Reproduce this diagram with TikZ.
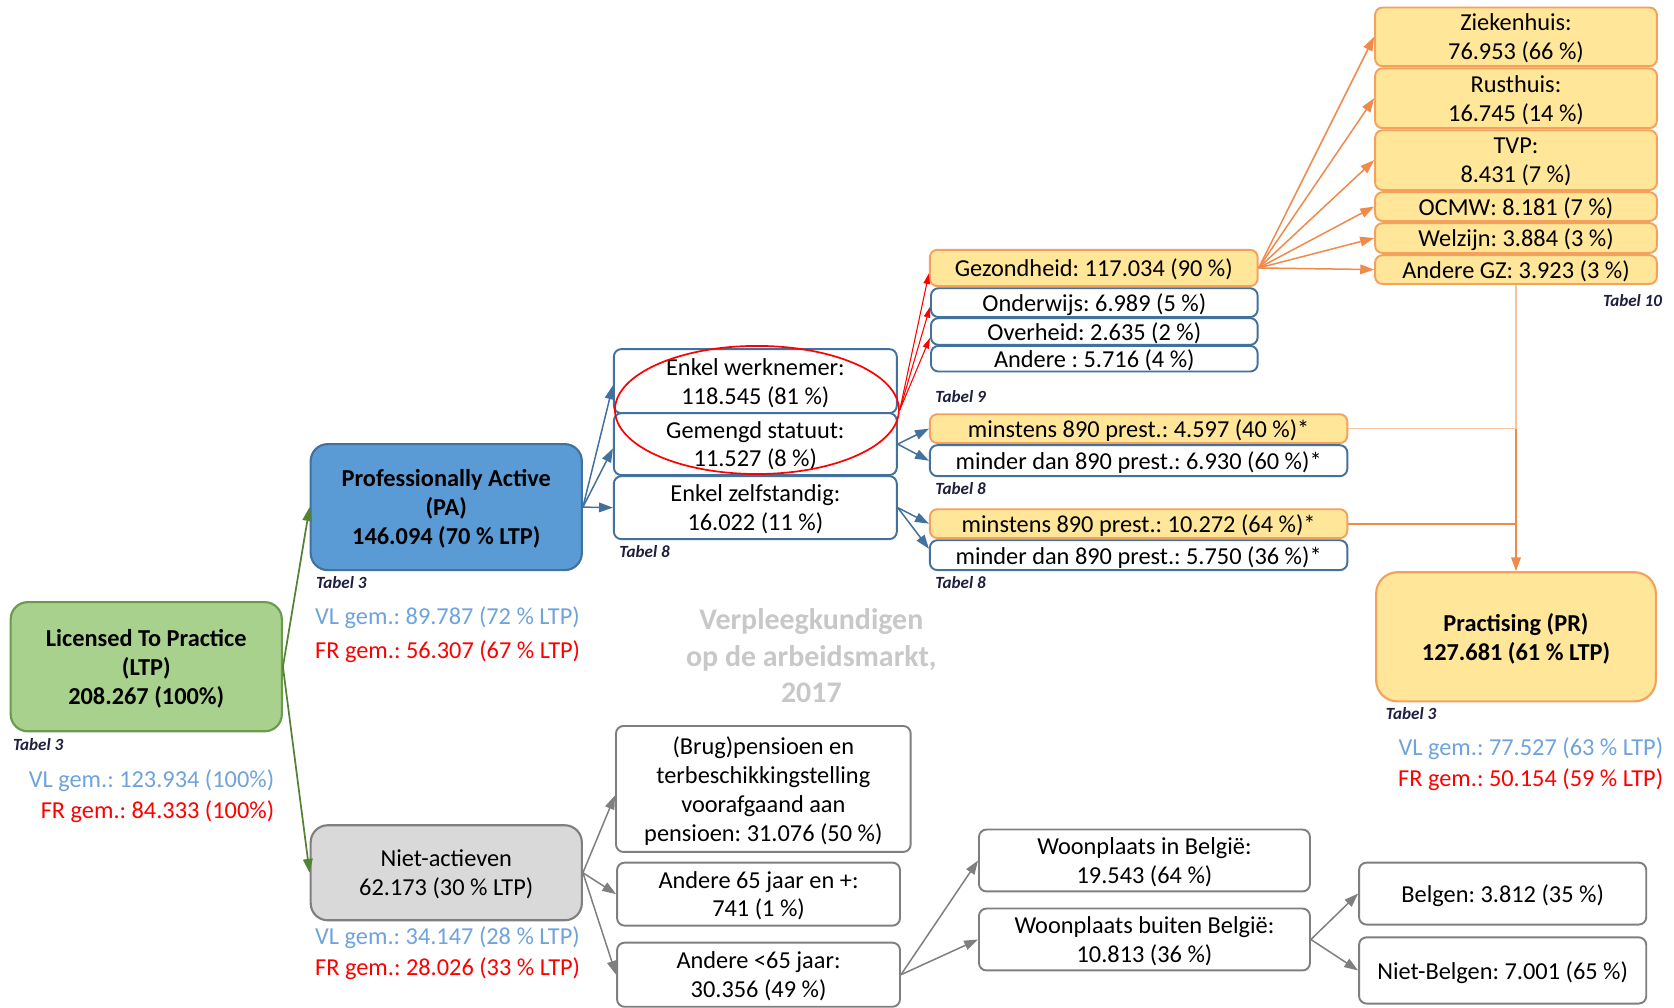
\documentclass[tikz,border=0pt]{standalone}
\usepackage{fontspec}
\setmainfont{Carlito}
\frenchspacing
\usetikzlibrary{arrows.meta,shapes.geometric,calc}
\definecolor{grfill}{HTML}{A9D18E}
\definecolor{grline}{HTML}{6A9B4C}
\definecolor{grarrow}{HTML}{548235}
\definecolor{bfill}{HTML}{5B9BD5}
\definecolor{bline}{HTML}{41719C}
\definecolor{ofill}{HTML}{FFE699}
\definecolor{oline}{HTML}{F4A15D}
\definecolor{oarrow}{HTML}{F08A4B}
\definecolor{olight}{HTML}{F8C3A0}
\definecolor{gfill}{HTML}{D9D9D9}
\definecolor{gline}{HTML}{7F7F7F}
\definecolor{vlblue}{HTML}{6FA3DC}
\definecolor{wmark}{HTML}{C8C8C8}
\definecolor{tabc}{HTML}{1F2040}
\begin{document}
\begin{tikzpicture}[x=1pt,y=-1pt,
  txt/.style={font=\fontsize{22.8}{27}\selectfont\frenchspacing, align=center, inner sep=0pt, text depth=0pt},
  bigbox/.style={txt, draw, line width=2pt, rounded corners=16pt},
  smbox/.style={txt, draw, line width=1.8pt, rounded corners=7pt, fill=white},
  bbox/.style={smbox, draw=bline},
  obox/.style={smbox, draw=oline, fill=ofill},
  gbox/.style={smbox, draw=gline},
  tabel/.style={font=\fontsize{16}{18}\selectfont\bfseries\itshape, text=tabc, inner sep=0pt},
  lbl/.style={font=\fontsize{22.8}{27}\selectfont\frenchspacing, inner sep=0pt},
  arr/.style={line width=1.4pt, -{Triangle[length=13pt,width=9pt]}},
  sarr/.style={line width=1pt, -{Triangle[length=10pt,width=6pt]}}
]
\useasboundingbox (0,0) rectangle (1568,944);
\fill[white] (0,0) rectangle (1568,944);

% main boxes
\node[bigbox, fill=grfill, draw=grline, font=\fontsize{22.8}{27}\selectfont\bfseries\frenchspacing,
      minimum width=254pt, minimum height=121pt] (ltp) at (137,624.5)
      {Licensed To Practice\\(LTP)\\208.267 (100\%)};
\node[bigbox, fill=bfill, draw=bline, font=\fontsize{22.8}{27}\selectfont\bfseries\frenchspacing,
      minimum width=254pt, minimum height=118pt] (pa) at (418,475)
      {Professionally Active\\(PA)\\146.094 (70 \% LTP)};
\node[bigbox, fill=gfill, draw=gline,
      minimum width=254pt, minimum height=89pt] (niet) at (418,817.5)
      {Niet-actieven\\62.173 (30 \% LTP)};
\node[bigbox, fill=ofill, draw=oline, rounded corners=20pt, font=\fontsize{22.8}{27}\selectfont\bfseries\frenchspacing,
      minimum width=262pt, minimum height=121pt] (pr) at (1420,596.5)
      {Practising (PR)\\127.681 (61 \% LTP)};

% labels under main boxes
\node[tabel, anchor=west] (t1) at (12,697) {Tabel 3};
\node[lbl, anchor=east, text=vlblue] (vl1) at (257,731) {VL gem.: 123.934 (100\%)};
\node[lbl, anchor=east, text=red] (fr1) at (257,760) {FR gem.: 84.333 (100\%)};
\node[tabel, anchor=west] (t2) at (296,546) {Tabel 3};
\node[lbl, anchor=west, text=vlblue] (vl2) at (295,579) {VL gem.: 89.787 (72 \% LTP)};
\node[lbl, anchor=west, text=red] (fr2) at (295,610) {FR gem.: 56.307 (67 \% LTP)};
\node[lbl, anchor=west, text=vlblue] (vl3) at (295,878) {VL gem.: 34.147 (28 \% LTP)};
\node[lbl, anchor=west, text=red] (fr3) at (295,907) {FR gem.: 28.026 (33 \% LTP)};
\node[tabel, anchor=west] (t3) at (1298,668) {Tabel 3};
\node[lbl, anchor=east, text=vlblue] (vl4) at (1558,701) {VL gem.: 77.527 (63 \% LTP)};
\node[lbl, anchor=east, text=red] (fr4) at (1558,730) {FR gem.: 50.154 (59 \% LTP)};

% watermark
\node[txt, font=\fontsize{28}{34}\selectfont\bfseries, text=wmark] (wm) at (760,614)
  {Verpleegkundigen\\op de arbeidsmarkt,\\2017};

% statute boxes
\node[bbox, minimum width=265pt, minimum height=60pt] (ew) at (707.5,357) {Enkel werknemer:\\118.545 (81 \%)};
\node[bbox, minimum width=265pt, minimum height=58pt] (gs) at (707.5,416) {Gemengd statuut:\\11.527 (8 \%)};
\node[bbox, minimum width=265pt, minimum height=59pt] (ez) at (707.5,475.5) {Enkel zelfstandig:\\16.022 (11 \%)};
\node[tabel, anchor=west] (t4) at (580,517) {Tabel 8};
\node[draw=red, line width=1.6pt, ellipse, minimum width=266pt, minimum height=120pt, inner sep=0pt] (ell) at (709,384) {};

% sector boxes
\node[obox, minimum width=307pt, minimum height=34pt] (gez) at (1024.5,251) {Gezondheid: 117.034 (90 \%)};
\node[bbox, minimum width=306pt, minimum height=27pt] (ond) at (1025,283.5) {Onderwijs: 6.989 (5 \%)};
\node[bbox, minimum width=306pt, minimum height=25pt] (ovh) at (1025,310.5) {Overheid: 2.635 (2 \%)};
\node[bbox, minimum width=306pt, minimum height=24pt] (and) at (1025,336) {Andere : 5.716 (4 \%)};
\node[tabel, anchor=west] (t5) at (876,371) {Tabel 9};

% prestaties boxes
\node[obox, minimum width=391pt, minimum height=27pt] (m1) at (1066.5,401.5) {minstens 890 prest.: 4.597 (40 \%)*};
\node[bbox, minimum width=391pt, minimum height=29pt] (d1) at (1066.5,431.5) {minder dan 890 prest.: 6.930 (60 \%)*};
\node[tabel, anchor=west] (t6) at (876,458) {Tabel 8};
\node[obox, minimum width=391pt, minimum height=27pt] (m2) at (1066.5,490.5) {minstens 890 prest.: 10.272 (64 \%)*};
\node[bbox, minimum width=391pt, minimum height=28pt] (d2) at (1066.5,520) {minder dan 890 prest.: 5.750 (36 \%)*};
\node[tabel, anchor=west] (t7) at (876,546) {Tabel 8};

% health sub-sectors
\node[obox, minimum width=264pt, minimum height=55pt] (zk) at (1420,34.5) {Ziekenhuis:\\76.953 (66 \%)};
\node[obox, minimum width=264pt, minimum height=56pt] (rh) at (1420,92) {Rusthuis:\\16.745 (14 \%)};
\node[obox, minimum width=264pt, minimum height=56pt] (tvp) at (1420,150) {TVP:\\8.431 (7 \%)};
\node[obox, minimum width=264pt, minimum height=27pt] (ocmw) at (1420,193.5) {OCMW: 8.181 (7 \%)};
\node[obox, minimum width=264pt, minimum height=28pt] (wz) at (1420,223) {Welzijn: 3.884 (3 \%)};
\node[obox, minimum width=264pt, minimum height=27pt] (agz) at (1420,252.5) {Andere GZ: 3.923 (3 \%)};
\node[tabel, anchor=east] (t8) at (1557,282) {Tabel 10};

% non-active boxes
\node[gbox, minimum width=276pt, minimum height=118pt] (brug) at (715,739)
  {(Brug)pensioen en\\terbeschikkingstelling\\voorafgaand aan\\pensioen: 31.076 (50 \%)};
\node[gbox, minimum width=265pt, minimum height=59pt] (a65) at (710.5,837.5) {Andere 65 jaar en +:\\741 (1 \%)};
\node[gbox, minimum width=265pt, minimum height=60pt] (a65m) at (710.5,913) {Andere <65 jaar:\\30.356 (49 \%)};
\node[gbox, minimum width=310pt, minimum height=58pt] (wib) at (1072,806) {Woonplaats in België:\\19.543 (64 \%)};
\node[gbox, minimum width=310pt, minimum height=58pt] (wbb) at (1072,880) {Woonplaats buiten België:\\10.813 (36 \%)};
\node[gbox, minimum width=269pt, minimum height=58pt] (bel) at (1407.5,837) {Belgen: 3.812 (35 \%)};
\node[gbox, minimum width=269pt, minimum height=62pt] (nbel) at (1407.5,909) {Niet-Belgen: 7.001 (65 \%)};

% connectors
\draw[arr, grarrow, line width=1.6pt] (ltp.east) -- (pa.west);
\draw[arr, grarrow, line width=1.6pt] (ltp.east) -- (niet.west);

\draw[arr, bline] (pa.east) -- ([yshift=-4pt]ew.west);
\draw[arr, bline] (pa.east) -- ([yshift=-4pt]gs.west);
\draw[arr, bline] (pa.east) -- (ez.west);

\draw[sarr, red] (ell.east) -- ([yshift=-5pt]gez.west);
\draw[sarr, red] (ell.east) -- ([yshift=-4pt]ond.west);
\draw[sarr, red] (ell.east) -- ([yshift=-6pt]ovh.west);

\draw[arr, bline] (gs.east) -- (m1.west);
\draw[arr, bline] (gs.east) -- (d1.west);
\draw[arr, bline] (ez.east) -- (m2.west);
\draw[arr, bline] (ez.east) -- ([yshift=6pt]d2.west);

\foreach \t in {zk,rh,tvp,ocmw,wz,agz}
  \draw[arr, oarrow] (gez.east) -- (\t.west);

\coordinate (j1) at (agz.south |- m1.east);
\coordinate (j2) at (agz.south |- m2.east);
\draw[olight, line width=1.6pt] (agz.south) -- (j1);
\draw[olight, line width=1.6pt] (m1.east) -- (j1);
\draw[oarrow, line width=1.6pt] (m2.east) -- (j2);
\draw[arr, oarrow, line width=1.6pt] (j1) -- (pr.north);

\draw[arr, gline] (niet.east) -- ([yshift=-6pt]brug.west);
\draw[arr, gline] (niet.east) -- (a65.west);
\draw[arr, gline] (niet.east) -- (a65m.west);
\draw[arr, gline] (a65m.east) -- (wib.west);
\draw[arr, gline] (a65m.east) -- (wbb.west);
\draw[arr, gline] (wbb.east) -- (bel.west);
\draw[arr, gline] (wbb.east) -- (nbel.west);
\end{tikzpicture}
\end{document}
